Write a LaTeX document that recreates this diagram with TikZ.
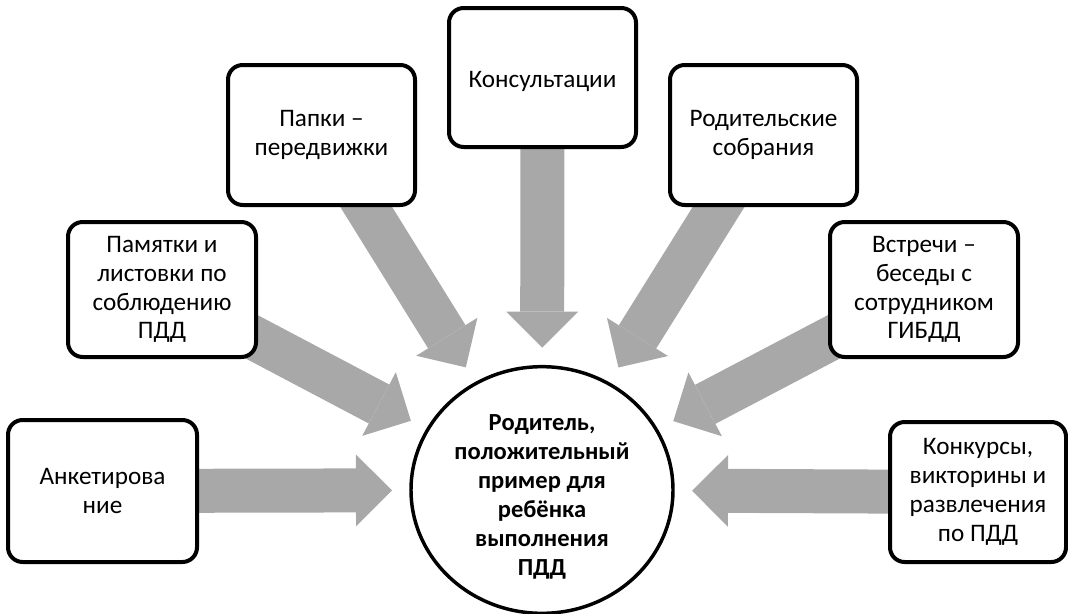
\documentclass[tikz,border=0pt]{standalone}
\usepackage{fontspec}
\setmainfont{Carlito}
\usetikzlibrary{arrows.meta,backgrounds,shapes.geometric}
\definecolor{arrgray}{RGB}{168,168,168}
\begin{document}
\begin{tikzpicture}[x=0.75pt,y=-0.75pt,
  box/.style={draw=black, line width=3pt, rounded corners=11pt, fill=white,
    align=center, inner sep=0pt, font=\fontsize{18.9}{21.6}\selectfont},
  hub/.style={ellipse, draw=black, line width=2.6pt, fill=white, align=center,
    inner sep=0pt, minimum width=196.5pt, minimum height=183pt,
    font=\fontsize{18.4}{21.8}\selectfont\bfseries},
  blk/.style={arrgray, line width=33pt,
    -{Triangle[length=27pt,width=54pt,line width=0pt]}, shorten >=13pt}]
\useasboundingbox (0,0) rectangle (1068,614);

\node[hub] (c) at (542,490) {\raisebox{-5.5pt}[\height][\depth]{\begin{tabular}{@{}c@{}}Родитель,\\положительный\\пример для\\ребёнка\\выполнения\\ПДД\end{tabular}}};

\node[box, minimum width=141.75pt, minimum height=106.5pt] (ank) at (102.5,491) {Анкетирова\\ние};
\node[box, minimum width=141pt, minimum height=101.25pt] (pam) at (162,289.5) {Памятки и\\листовки по\\соблюдению\\ПДД};
\node[box, minimum width=140.25pt, minimum height=105pt] (pap) at (321.5,135) {Папки –\\передвижки};
\node[box, minimum width=140.25pt, minimum height=104.25pt] (kon) at (542.5,77.5) {\raisebox{-3pt}[\height][\depth]{Консультации}};
\node[box, minimum width=140.25pt, minimum height=105pt] (rod) at (763.5,135) {Родительские\\собрания};
\node[box, minimum width=141pt, minimum height=101.25pt] (vst) at (924,289.5) {Встречи –\\беседы с\\сотрудником\\ГИБДД};
\node[box, minimum width=132pt, minimum height=105pt] (knk) at (978,492) {Конкурсы,\\викторины и\\развлечения\\по ПДД};

\begin{scope}[on background layer]
  \draw[blk] (ank.center) -- (c);
  \draw[blk] (pam.center) -- (c);
  \draw[blk] (pap.center) -- (c);
  \draw[blk] (kon.center) -- (c);
  \draw[blk] (rod.center) -- (c);
  \draw[blk] (vst.center) -- (c);
  \draw[blk] (knk.center) -- (c);
\end{scope}
\end{tikzpicture}
\end{document}
